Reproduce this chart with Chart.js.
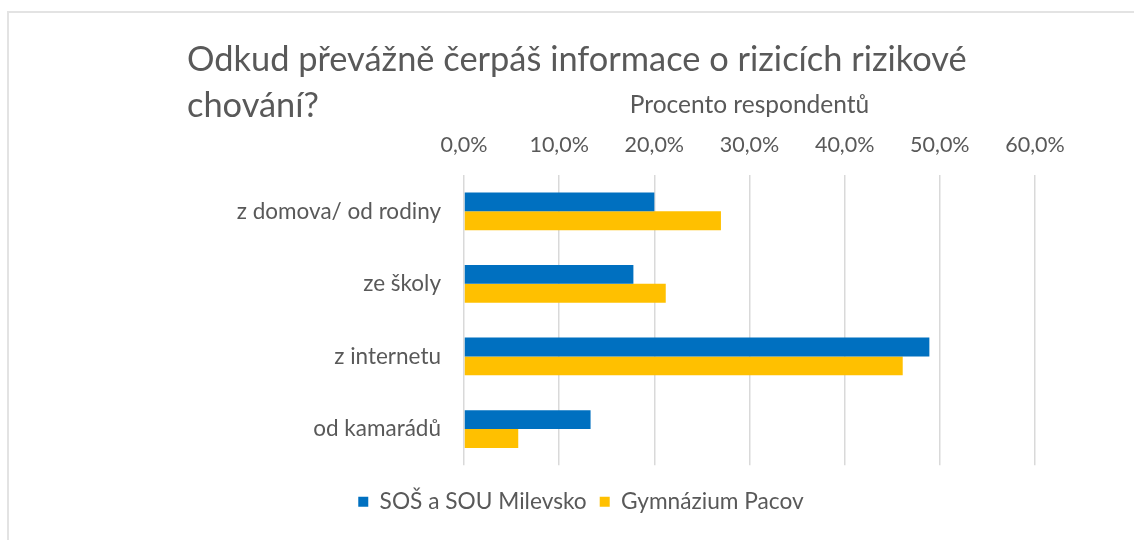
<!DOCTYPE html>
<html lang="cs">

<head>
  <meta charset="UTF-8" />
  <title>Odkud převážně čerpáš informace</title>
  <script src="https://cdn.jsdelivr.net/npm/chart.js"></script>
  <style>
    html, body { margin: 0; padding: 0; background: #fff; }
    .ramec {
      position: absolute; left: 7px; top: 11px; width: 1200px; height: 600px;
      border: 2px solid #e3e3e3; box-sizing: border-box;
    }
    .grafico { position: absolute; left: 0; top: 0; width: 1134px; height: 540px; }
  </style>
</head>

<body>
  <div class="ramec"></div>
  <div class="grafico">
    <canvas id="grafico"></canvas>
  </div>

  <script>
    // dados (em %)
    const kategorie = ['z domova/ od rodiny', 'ze školy', 'z internetu', 'od kamarádů'];
    const milevsko = [20.0, 17.8, 48.9, 13.3];
    const pacov = [27.0, 21.2, 46.1, 5.7];
    const serie = ['SOŠ a SOU Milevsko', 'Gymnázium Pacov'];
    const tituloGrafico = ['Odkud převážně čerpáš informace o rizicích rizikové', 'chování?'];
    const tituloEixo = 'Procento respondentů';

    const corTexto = '#595959';
    const fonte = 'Lato';

    // move a legenda um pouco para a esquerda, como no original
    const ajusteLegenda = {
      id: 'ajusteLegenda',
      afterLayout(chart) {
        chart.legend.left -= 30;
        chart.legend.right -= 30;
      }
    };

    const config = {
      type: 'bar',
      data: {
        labels: kategorie,
        datasets: [{
          label: serie[0],
          data: milevsko,
          backgroundColor: '#0070C0',
          categoryPercentage: 0.52,
          barPercentage: 1
        },
        {
          label: serie[1],
          data: pacov,
          backgroundColor: '#FFC000',
          categoryPercentage: 0.52,
          barPercentage: 1
        }]
      },
      options: {
        indexAxis: 'y',
        responsive: true,
        maintainAspectRatio: false,
        animation: false,
        layout: {
          padding: { left: 187, right: 99, top: 0, bottom: 17 }
        },
        plugins: {
          title: {
            display: true,
            text: tituloGrafico,
            align: 'start',
            color: corTexto,
            font: { family: fonte, size: 34.4, weight: 'normal', lineHeight: 46 / 34.4 },
            padding: { top: 37, bottom: -47 }
          },
          legend: {
            position: 'bottom',
            title: { display: true, text: '', font: { size: 10 }, padding: 0 },
            labels: {
              boxWidth: 10,
              boxHeight: 10,
              padding: 13,
              color: corTexto,
              font: { family: fonte, size: 22.7 }
            }
          },
          tooltip: { enabled: false }
        },
        scales: {
          x: {
            position: 'top',
            min: 0,
            max: 60,
            afterFit: (scale) => { scale.height = 93; },
            ticks: {
              stepSize: 10,
              padding: 17,
              color: corTexto,
              font: { family: fonte, size: 21.5 },
              callback: (v) => v.toFixed(1).replace('.', ',') + '%'
            },
            grid: { color: '#d9d9d9', lineWidth: 1.5, drawTicks: false },
            border: { display: false },
            title: {
              display: true,
              text: tituloEixo,
              color: corTexto,
              font: { family: fonte, size: 24.5 },
              padding: { top: 8, bottom: 0 }
            }
          },
          y: {
            afterFit: (scale) => { scale.width = 277; },
            ticks: {
              padding: 23,
              color: corTexto,
              font: { family: fonte, size: 22.5 }
            },
            grid: { display: false, drawTicks: false },
            border: { display: false }
          }
        }
      },
      plugins: [ajusteLegenda]
    };

    let myChart = new Chart(document.getElementById('grafico'), config);
  </script>
</body>

</html>
